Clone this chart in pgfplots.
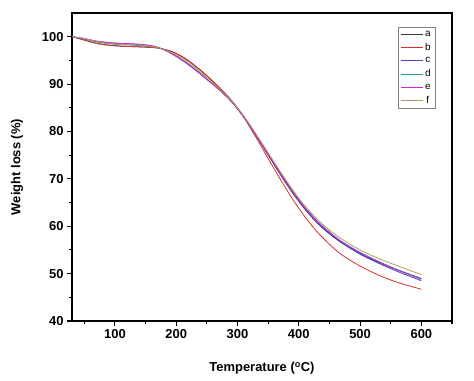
\documentclass[border=0pt]{standalone}
\usepackage{fontspec}
\setmainfont{Liberation Sans}
\usepackage{pgfplots}
\pgfplotsset{compat=1.18}
\definecolor{ca}{RGB}{55,55,55}
\definecolor{cb}{RGB}{220,45,45}
\definecolor{cc}{RGB}{70,70,200}
\definecolor{cd}{RGB}{40,160,160}
\definecolor{ce}{RGB}{215,30,215}
\definecolor{cf}{RGB}{175,155,95}
\begin{document}
\begin{tikzpicture}
\begin{axis}[
  scale only axis, width=380bp, height=308bp,
  xmin=30, xmax=650, ymin=40, ymax=105,
  xtick={100,200,...,600}, minor xtick={50,150,...,650},
  ytick={40,50,...,100}, minor ytick={45,55,...,95},
  axis line style={line width=1.3pt},
  tick style={line width=1.1pt, black},
  major tick length=5bp, minor tick length=3bp,
  tick align=outside, xtick pos=bottom, ytick pos=left,
  ticklabel style={font=\fontsize{13}{13}\selectfont\bfseries},
  /pgf/number format/assume math mode=true,
  xlabel={Temperature (\textsuperscript{o}C)},
  ylabel={Weight loss (\%)},
  label style={font=\fontsize{13}{13}\selectfont\bfseries},
  x label style={at={(axis description cs:0.5,-0.1526)}, anchor=center},
  y label style={at={(axis description cs:-0.1447,0.5)}, anchor=center},
  legend style={at={(0.9553,0.9545)}, anchor=north east, draw=gray,
    font=\fontsize{10}{10}\selectfont, row sep=1.3pt, inner sep=2.2pt},
  legend image code/.code={\draw[#1, line width=1pt] (0bp,0bp) -- (22bp,0bp);},
  every axis plot/.append style={line width=0.8pt, smooth},
]
\addplot[ca] coordinates {(30,100) (50,99.3) (70,98.6) (90,98.2) (110,98.0) (130,97.9) (150,97.8) (170,97.6) (190,97.0) (210,95.7) (230,93.9) (250,91.7) (270,89.3) (290,86.6) (310,83.2) (330,79.2) (350,75.0) (370,70.9) (390,67.0) (410,63.6) (430,60.7) (450,58.4) (470,56.5) (500,54.2) (530,52.4) (560,50.8) (600,48.9)};
\addplot[cb] coordinates {(30,100) (50,99.3) (70,98.6) (90,98.2) (110,98.0) (130,97.9) (150,97.8) (170,97.6) (190,97.0) (210,95.8) (230,94.0) (250,91.8) (270,89.3) (290,86.5) (310,83.0) (330,78.8) (350,74.3) (370,69.9) (390,65.7) (410,62.0) (430,58.8) (450,56.2) (470,54.0) (500,51.6) (530,49.7) (560,48.2) (600,46.7)};
\addplot[cc] coordinates {(30,100) (50,99.6) (70,99.0) (90,98.7) (110,98.5) (130,98.4) (150,98.2) (170,97.7) (190,96.6) (210,95.0) (230,93.1) (250,91.0) (270,88.8) (290,86.3) (310,83.1) (330,79.3) (350,75.2) (370,71.1) (390,67.2) (410,63.7) (430,60.8) (450,58.5) (470,56.5) (500,54.1) (530,52.2) (560,50.5) (600,48.5)};
\addplot[cd] coordinates {(30,100) (50,99.5) (70,98.9) (90,98.5) (110,98.3) (130,98.2) (150,98.0) (170,97.7) (190,96.7) (210,95.2) (230,93.3) (250,91.2) (270,88.9) (290,86.4) (310,83.2) (330,79.4) (350,75.3) (370,71.3) (390,67.4) (410,64.0) (430,61.1) (450,58.8) (470,56.8) (500,54.5) (530,52.6) (560,50.9) (600,49.0)};
\addplot[ce] coordinates {(30,100) (50,99.6) (70,99.1) (90,98.8) (110,98.6) (130,98.5) (150,98.3) (170,97.8) (190,96.6) (210,95.0) (230,93.1) (250,91.0) (270,88.8) (290,86.3) (310,83.1) (330,79.3) (350,75.2) (370,71.2) (390,67.3) (410,63.9) (430,61.0) (450,58.7) (470,56.7) (500,54.4) (530,52.5) (560,50.8) (600,48.8)};
\addplot[cf] coordinates {(30,100) (50,99.6) (70,99.0) (90,98.6) (110,98.4) (130,98.3) (150,98.1) (170,97.7) (190,96.8) (210,95.3) (230,93.5) (250,91.3) (270,89.0) (290,86.5) (310,83.3) (330,79.5) (350,75.5) (370,71.5) (390,67.7) (410,64.3) (430,61.5) (450,59.2) (470,57.3) (500,55.0) (530,53.2) (560,51.7) (600,49.8)};
\legend{a,b,c,d,e,f}
\end{axis}
\path ([shift={(-72bp,-59bp)}]current axis.south west) rectangle ([shift={(22bp,13bp)}]current axis.north east);
\end{tikzpicture}
\end{document}
